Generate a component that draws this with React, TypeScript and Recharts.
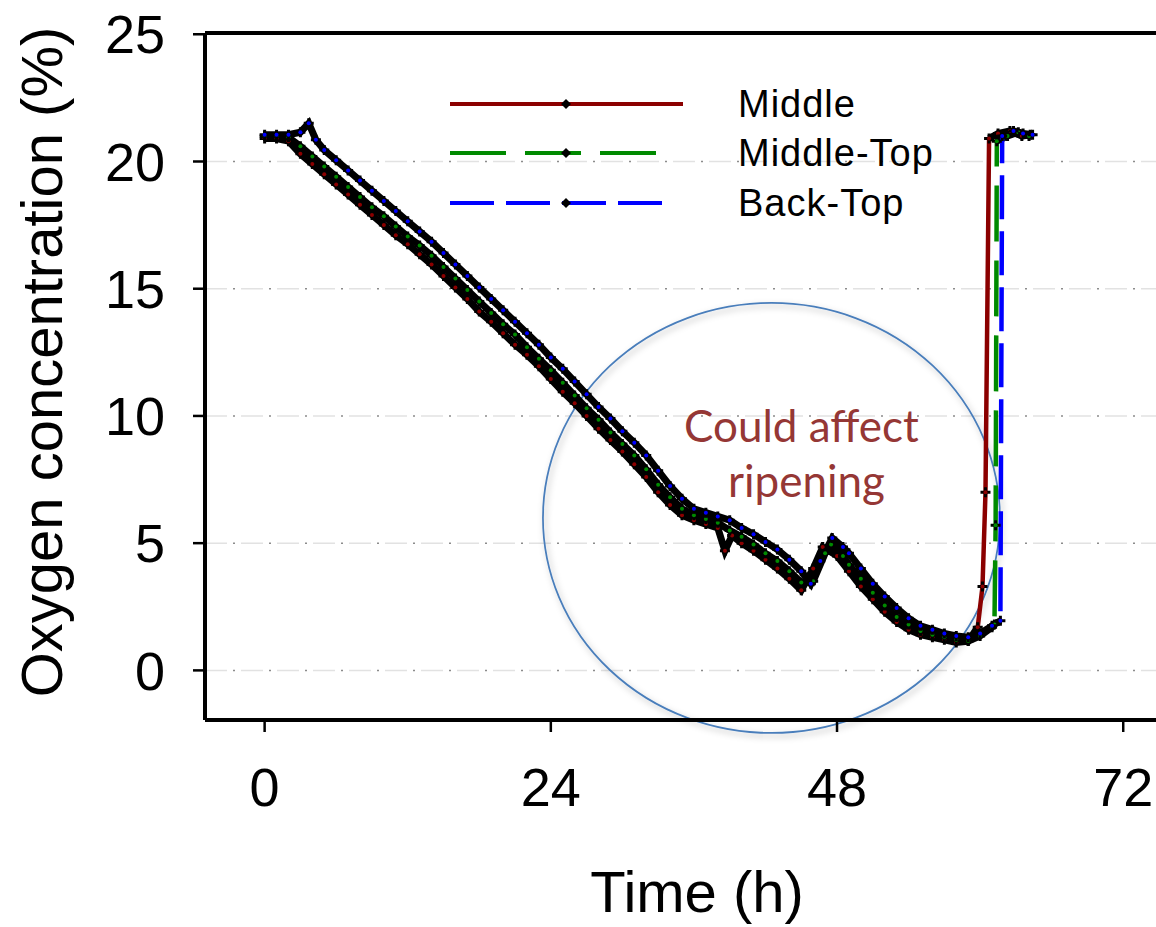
import { CartesianGrid, Legend, Line, LineChart, ReferenceArea, ReferenceLine, XAxis, YAxis } from "recharts";

// Oxygen concentration (%) over time (h)
const middleT = [0, 1, 2, 3, 4, 5, 6, 7, 8, 9, 10, 11, 12, 13, 14, 15, 16, 17, 18, 19, 20, 21, 22, 23, 24, 25, 26, 27, 28, 29, 30, 31, 32, 33, 34, 35, 36, 37, 38, 38.6, 39.2, 40, 41, 42, 43, 44, 45, 46, 46.8, 48, 49, 50, 51, 52, 53, 54, 55, 56, 57, 58, 59, 59.8, 60.2, 60.45, 60.75, 61.5, 62.5, 63.5, 64.2];
const middleV = [20.9, 20.9, 20.8, 20.3, 19.9, 19.5, 19.1, 18.7, 18.3, 17.9, 17.5, 17.1, 16.75, 16.35, 15.95, 15.5, 15.05, 14.6, 14.1, 13.7, 13.25, 12.8, 12.4, 11.95, 11.45, 10.95, 10.5, 10.0, 9.5, 9.05, 8.6, 8.1, 7.6, 7.0, 6.5, 6.1, 5.9, 5.75, 5.6, 4.7, 5.3, 5.0, 4.7, 4.35, 4.0, 3.6, 3.15, 4.0, 4.85, 4.5, 3.9, 3.3, 2.8, 2.3, 1.9, 1.6, 1.4, 1.3, 1.2, 1.1, 1.15, 1.7, 3.3, 7.0, 20.9, 21.1, 21.2, 21.0, 21.05];

const middleTopT = [0, 1, 2, 3, 4, 5, 6, 7, 8, 9, 10, 11, 12, 13, 14, 15, 16, 17, 18, 19, 20, 21, 22, 23, 24, 25, 26, 27, 28, 29, 30, 31, 32, 33, 34, 35, 36, 37, 38, 39, 40, 41, 42, 43, 44, 45, 46, 47, 47.5, 48.5, 49, 50, 51, 52, 53, 54, 55, 56, 57, 58, 59, 60, 61, 61.2, 61.3, 61.4, 62.3, 63.2, 64.1];
const middleTopV = [21.0, 21.0, 20.95, 20.6, 20.2, 19.8, 19.4, 19.0, 18.6, 18.2, 17.85, 17.45, 17.05, 16.7, 16.3, 15.85, 15.4, 14.95, 14.5, 14.05, 13.6, 13.2, 12.7, 12.25, 11.8, 11.3, 10.8, 10.3, 9.85, 9.35, 8.9, 8.45, 7.9, 7.3, 6.8, 6.35, 6.1, 5.95, 5.8, 5.5, 5.25, 4.95, 4.6, 4.3, 3.9, 3.45, 3.5, 4.6, 4.95, 4.5, 4.15, 3.6, 3.05, 2.55, 2.1, 1.8, 1.55, 1.4, 1.3, 1.2, 1.15, 1.35, 1.7, 1.8, 5.7, 20.8, 21.0, 21.15, 21.0];

const backTopT = [0, 1, 2, 3, 3.7, 4.3, 5, 6, 7, 8, 9, 10, 11, 12, 13, 14, 15, 16, 17, 18, 19, 20, 21, 22, 23, 24, 25, 26, 27, 28, 29, 30, 31, 32, 33, 34, 35, 36, 37, 38, 39, 40, 41, 42, 43, 44, 45, 45.8, 46.6, 47.6, 48.5, 49, 50, 51, 52, 53, 54, 55, 56, 57, 58, 59, 60, 61, 61.7, 61.85, 62.8, 63.6, 64.4];
const backTopV = [21.05, 21.05, 21.05, 21.15, 21.5, 20.85, 20.45, 20.05, 19.65, 19.25, 18.85, 18.45, 18.05, 17.65, 17.25, 16.85, 16.4, 15.95, 15.5, 15.05, 14.6, 14.15, 13.7, 13.25, 12.8, 12.3, 11.85, 11.35, 10.85, 10.35, 9.9, 9.4, 8.95, 8.45, 7.85, 7.25, 6.75, 6.35, 6.2, 6.05, 5.9, 5.6, 5.35, 5.05, 4.75, 4.35, 3.9, 3.4, 4.3, 5.2, 4.85, 4.6, 4.0, 3.4, 2.9, 2.45, 2.05, 1.75, 1.6, 1.45, 1.35, 1.3, 1.45, 1.75, 1.95, 21.0, 21.2, 21.1, 21.05];

const xTicks = [0, 24, 48, 72];
const yTicks = [0, 5, 10, 15, 20, 25];
const yMinorTicks = [-1.25, 1.25, 2.5, 3.75, 6.25, 7.5, 8.75, 11.25, 12.5, 13.75, 16.25, 17.5, 18.75, 21.25, 22.5, 23.75];

const FONT = '"Liberation Sans", Arial, sans-serif';
const X_DOMAIN = [-5, 75];
const Y_DOMAIN = [-1.95, 25.05];

type Pt = { t: number; v: number | null };
const toPoints = (ts: number[], vs: number[]): Pt[] => ts.map((t, i) => ({ t, v: vs[i] }));
// the black marker band only follows the slow part, not the final jump back to air
const bandOnly = (pts: Pt[]): Pt[] =>
  pts.flatMap((p, i) => {
    const prev = pts[i - 1];
    const v = p.v as number;
    const out: Pt[] = [];
    if (prev && Math.abs(v - (prev.v as number)) > 4) out.push({ t: (prev.t + p.t) / 2, v: null });
    out.push(p.t > 59 && v > 2.2 && v < 20.5 ? { t: p.t, v: null } : p);
    return out;
  });

const series = [
  { name: "Middle", color: "#8b0000", dash: undefined as string | undefined, legendLen: 233, data: toPoints(middleT, middleV) },
  { name: "Middle-Top", color: "#008a00", dash: "56 19", legendLen: 207, data: toPoints(middleTopT, middleTopV) },
  { name: "Back-Top", color: "#0000ff", dash: "44 12", legendLen: 217, data: toPoints(backTopT, backTopV) },
];

function Marker({ cx, cy, fill }: { cx?: number; cy?: number; fill: string }) {
  if (cx == null || cy == null) return null;
  return (
    <g>
      <path d={`M${cx - 5},${cy} H${cx + 5} M${cx},${cy - 5} V${cy + 5}`} stroke="#000" strokeWidth={3} />
      <circle cx={cx} cy={cy} r={2} fill={fill} />
    </g>
  );
}

function EllipseNote(props: any) {
  const { x, y, width, height } = props;
  const cx = x + width / 2;
  const cy = y + height / 2;
  return (
    <g>
      <defs>
        <filter id="noteShadow" x="-10%" y="-10%" width="120%" height="120%">
          <feDropShadow dx="2" dy="3" stdDeviation="3" floodColor="#000" floodOpacity="0.3" />
        </filter>
      </defs>
      <ellipse cx={cx} cy={cy} rx={width / 2} ry={height / 2} fill="none" stroke="#4a7ebb" strokeWidth={1.75} filter="url(#noteShadow)" />
      <text x={cx + 30} y={cy - 76} textAnchor="middle" fill="#953735" fontFamily="Lato, sans-serif" fontSize={44}>Could affect</text>
      <text x={cx + 35} y={cy - 21} textAnchor="middle" fill="#953735" fontFamily="Lato, sans-serif" fontSize={44}>ripening</text>
    </g>
  );
}

function renderLegend(props: any) {
  const names = new Set(((props.payload ?? []) as { value: string }[]).map((it) => it.value));
  return (
    <div style={{ fontFamily: FONT, fontSize: 38, color: "#000", letterSpacing: 1 }}>
      {series.filter((s) => names.has(s.name)).map((s) => (
        <div key={s.name} style={{ height: 49.5, display: "flex", alignItems: "center" }}>
          <svg width={298} height={20}>
            <line x1={10} x2={10 + s.legendLen} y1={10} y2={10} stroke={s.color} strokeWidth={4} strokeDasharray={s.dash} />
            <path d="M126,5 L131,10 L126,15 L121,10 Z" fill="#000" />
          </svg>
          <span style={{ lineHeight: 1 }}>{s.name}</span>
        </div>
      ))}
    </div>
  );
}

export default function App() {
  const axisLine = { stroke: "#000", strokeWidth: 4 };
  const tickLine = { stroke: "#000", strokeWidth: 2.5 };
  const tick = { fill: "#000", fontSize: 54, fontFamily: FONT };
  return (
    <div style={{ position: "absolute", left: 0, top: 0, width: 1156, height: 927, overflow: "hidden", background: "#fff" }}>
      <LineChart width={1210} height={927} margin={{ top: 33, right: 51, bottom: 0, left: 0 }}>
        <CartesianGrid vertical={false} stroke="#e2e2e2" strokeWidth={1.5} strokeDasharray="22 14" />
        <CartesianGrid vertical={false} stroke="#8c8c8c" strokeWidth={1.5} strokeDasharray="2 34" strokeDashoffset={-28} />
        <XAxis dataKey="t" type="number" domain={X_DOMAIN} ticks={xTicks} allowDataOverflow height={207}
          axisLine={axisLine} tickLine={tickLine} tickSize={12} tickMargin={36} tick={tick} />
        <YAxis type="number" domain={Y_DOMAIN} ticks={yTicks} allowDataOverflow width={205}
          axisLine={axisLine} tickLine={tickLine} tickSize={12} tickMargin={28} tick={tick} />
        <YAxis yAxisId="leftMinor" type="number" domain={Y_DOMAIN} ticks={yMinorTicks} allowDataOverflow mirror
          axisLine={false} tickLine={{ stroke: "#000", strokeWidth: 2 }} tickSize={6} tick={false} />
        <YAxis yAxisId="right" orientation="right" type="number" domain={Y_DOMAIN} ticks={yMinorTicks} allowDataOverflow mirror
          axisLine={axisLine} tickLine={{ stroke: "#000", strokeWidth: 2 }} tickSize={6} tick={false} />
        <ReferenceLine y={Y_DOMAIN[1]} stroke="#000" strokeWidth={4} />
        <ReferenceArea x1={23.34} x2={61.66} y1={-2.46} y2={14.44} ifOverflow="visible" shape={EllipseNote} />
        {series.flatMap((s) => [
          <Line key={s.name} name={s.name} data={s.data} dataKey="v" type="linear" stroke={s.color} strokeWidth={4.5}
            strokeDasharray={s.dash} dot={false} activeDot={false} isAnimationActive={false} />,
          <Line key={`${s.name}-band`} data={bandOnly(s.data)} dataKey="v" type="linear" stroke="#000" strokeWidth={7}
            dot={false} activeDot={false} legendType="none" connectNulls={false} isAnimationActive={false} />,
          <Line key={`${s.name}-marks`} data={s.data} dataKey="v" type="linear" stroke="none" legendType="none"
            activeDot={false} isAnimationActive={false}
            dot={(p: any) => <Marker key={`${s.name}-${p.index}`} cx={p.cx} cy={p.cy} fill={s.color} />} />,
        ])}
        <Legend layout="vertical" align="center" verticalAlign="middle" content={renderLegend}
          wrapperStyle={{ left: 440, top: 79, width: 560 }} />
      </LineChart>
      <svg width={1156} height={927} style={{ position: "absolute", left: 0, top: 0, pointerEvents: "none" }}>
        <text x={62} y={362} transform="rotate(-90 62 362)" textAnchor="middle" fontFamily={FONT} fontSize={58} fill="#000">
          Oxygen concentration (%)
        </text>
        <text x={697} y={912} textAnchor="middle" fontFamily={FONT} fontSize={58} fill="#000">Time (h)</text>
      </svg>
    </div>
  );
}
